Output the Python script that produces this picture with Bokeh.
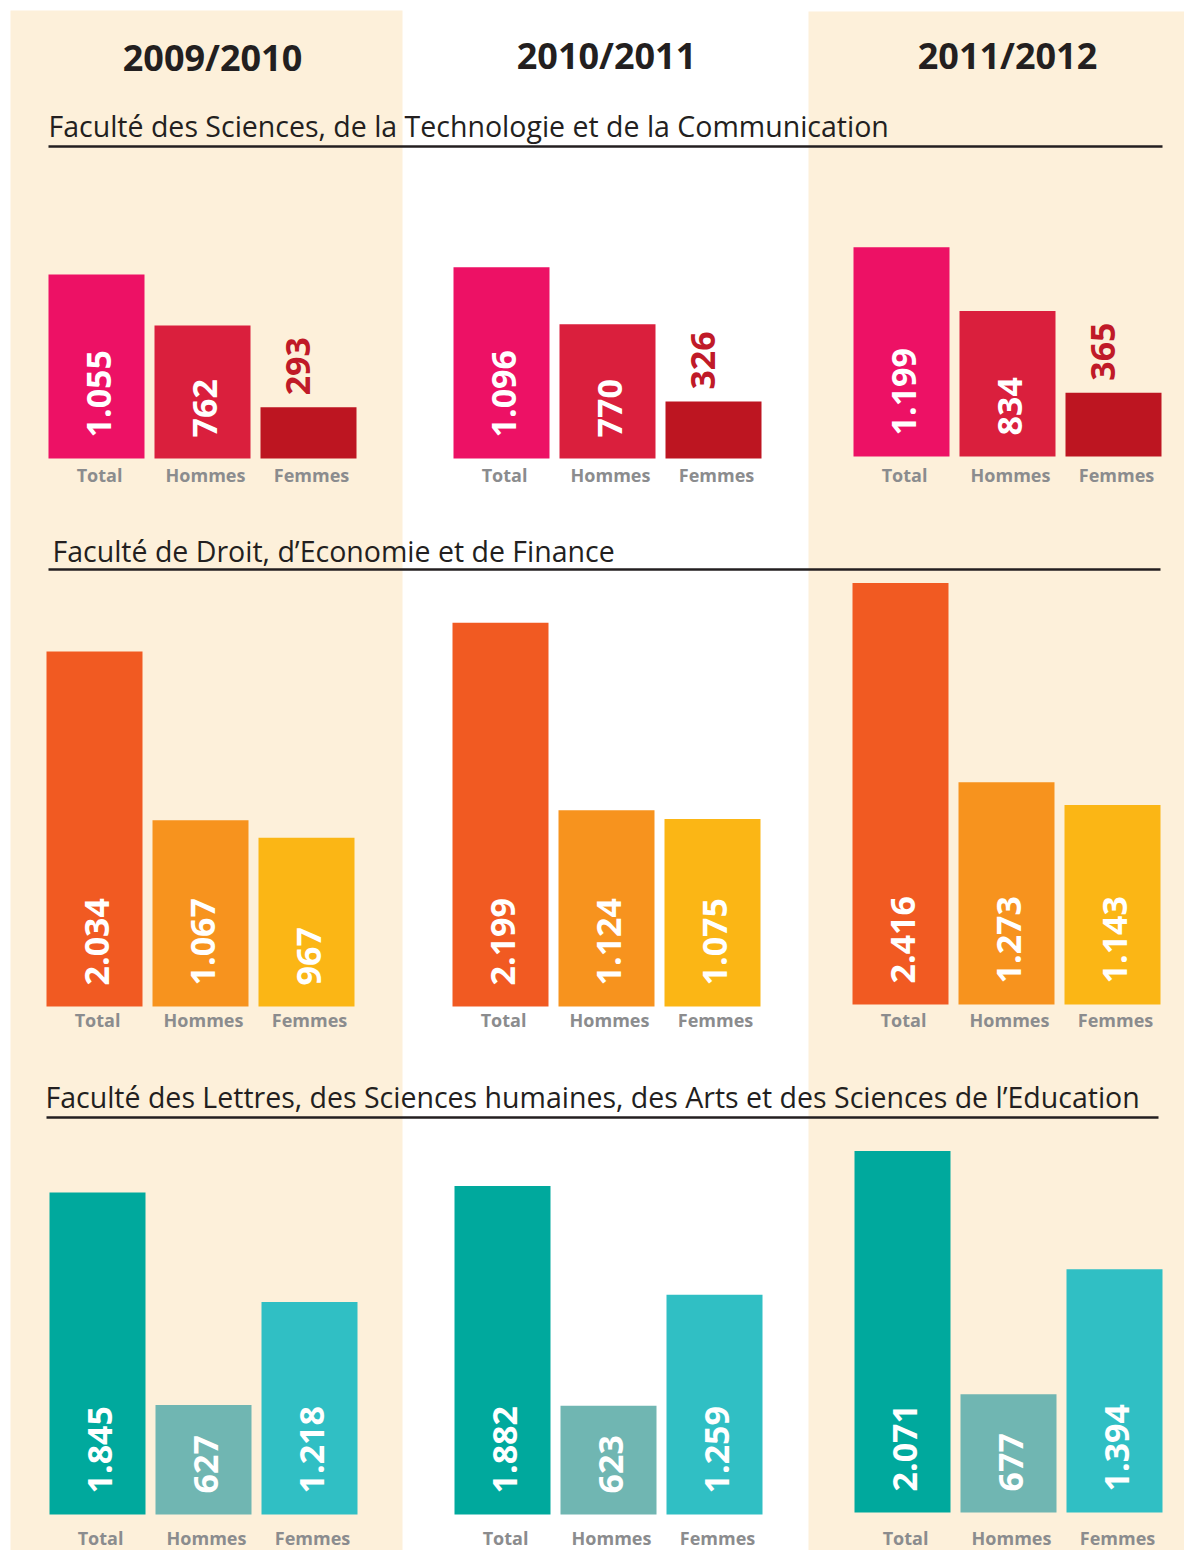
import math
from bokeh.plotting import figure
from bokeh.models import Range1d
from bokeh.core.properties import value
from bokeh.embed import file_html
from bokeh.resources import INLINE

# ---------------- data ----------------
years = ["2009/2010", "2010/2011", "2011/2012"]
categories = ["Total", "Hommes", "Femmes"]
faculties = [
    "Faculté des Sciences, de la Technologie et de la Communication",
    "Faculté de Droit, d\u2019Economie et de Finance",
    "Faculté des Lettres, des Sciences humaines, des Arts et des Sciences de l\u2019Education",
]
# values per year: [Total, Hommes, Femmes]
fstc = [[1055, 762, 293], [1096, 770, 326], [1199, 834, 365]]
fdef = [[2034, 1067, 967], [2199, 1124, 1075], [2416, 1273, 1143]]
flshase = [[1845, 627, 1218], [1882, 623, 1259], [2071, 677, 1394]]
faculty_values = [fstc, fdef, flshase]

# ---------------- styles / layout ----------------
row_colors = [
    ["#ED1165", "#DA1F3D", "#BD1521"],
    ["#F15A22", "#F7931E", "#FBB615"],
    ["#00A99D", "#70B6B2", "#30BFC4"],
]
outside_label_color = "#C01A28"
cream = "#FDF0DA"
ink = "#231F20"
grey = "#8B8C8E"
FONT = value("Open Sans")

W, H = 1184, 1550
X0, Y0 = 0, 0
PX_PER_STUDENT = 0.1745
BAR_W, BAR_PITCH = 96, 106
col_left = [[48, 453, 853], [46, 452, 852], [49, 454, 854]]
baselines = [[458, 458, 456], [1006, 1006, 1004], [1514, 1514, 1512]]
cat_label_y = [474, 1019, 1537]
title_pos = [(48, 125), (52, 550), (45, 1096)]
rule_pos = [(48, 1162, 146), (48, 1160, 569), (46, 1158, 1117)]
year_pos = [(212, 57), (606, 55), (1007, 55)]
bands = [(10, 402), (808, 1184)]

p = figure(width=W, height=H, output_backend="svg", toolbar_location=None,
           x_range=Range1d(X0, X0 + W), y_range=Range1d(Y0 + H, Y0),
           x_axis_location=None, y_axis_location=None, min_border=0,
           background_fill_color="white", border_fill_color="white",
           outline_line_color=None)
p.xgrid.visible = False
p.ygrid.visible = False

# background bands
p.quad(left=[b[0] for b in bands], right=[b[1] for b in bands],
       top=[10, 11], bottom=[Y0 + H, Y0 + H], color=cream, line_color=None)

# year headers
p.text(x=[yp[0] for yp in year_pos], y=[yp[1] for yp in year_pos], text=years,
       text_font=FONT, text_font_style="bold", text_font_size="36px",
       text_color=ink, text_align="center", text_baseline="middle")

# faculty titles and rules
p.text(x=[t[0] for t in title_pos], y=[t[1] for t in title_pos], text=faculties,
       text_font=FONT, text_font_size="28.5px", text_color=ink,
       text_align="left", text_baseline="middle")
p.segment(x0=[r[0] for r in rule_pos], x1=[r[1] for r in rule_pos],
          y0=[r[2] for r in rule_pos], y1=[r[2] for r in rule_pos],
          line_color=ink, line_width=2.5)


def fmt(v):
    return f"{v:,}".replace(",", ".")


for r, fac in enumerate(faculty_values):
    for c, vals in enumerate(fac):
        B = baselines[r][c]
        name = f"r{r}c{c}"
        p.extra_y_ranges[name] = Range1d((B - (Y0 + H)) / PX_PER_STUDENT,
                                         (B - Y0) / PX_PER_STUDENT)
        xs = [col_left[r][c] + BAR_W / 2 + i * BAR_PITCH for i in range(3)]
        p.vbar(x=xs, width=BAR_W, bottom=0, top=vals, color=row_colors[r],
               line_color=None, y_range_name=name)
        # value labels (rotated)
        in_x, in_y, in_t, out_x, out_y, out_t = [], [], [], [], [], []
        for x, v in zip(xs, vals):
            if v * PX_PER_STUDENT < 90:
                out_x.append(x - 11)
                out_y.append(v + 12 / PX_PER_STUDENT)
                out_t.append(fmt(v))
            else:
                in_x.append(x + 2)
                in_y.append(21 / PX_PER_STUDENT)
                in_t.append(fmt(v))
        common = dict(text_font=FONT, text_font_style="bold", text_font_size="34px",
                      angle=math.pi / 2, text_align="left", text_baseline="middle",
                      y_range_name=name)
        if in_t:
            p.text(x=in_x, y=in_y, text=in_t, text_color="white", **common)
        if out_t:
            p.text(x=out_x, y=out_y, text=out_t, text_color=outside_label_color, **common)
        # category labels
        p.text(x=[x + 3 for x in xs], y=[cat_label_y[r]] * 3, text=categories,
               text_font=FONT, text_font_style="bold", text_font_size="18px",
               text_color=grey, text_align="center", text_baseline="middle")

open("out.html", "w").write(file_html(p, INLINE))
